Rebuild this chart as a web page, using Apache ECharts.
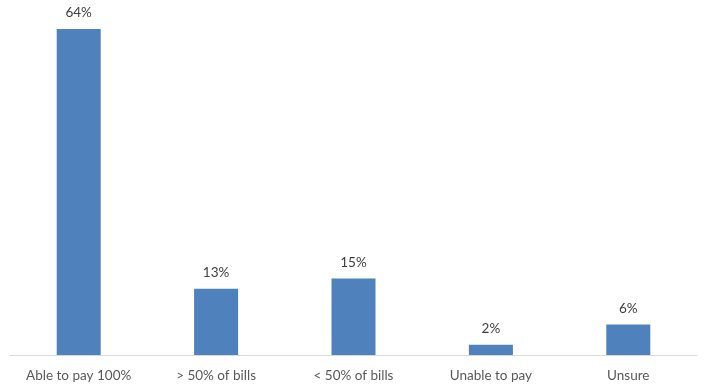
<!DOCTYPE html>
<html>
<head>
<meta charset="utf-8">
<script src="https://cdn.jsdelivr.net/npm/echarts@6/dist/echarts.min.js"></script>
<style>
  html, body { margin: 0; padding: 0; background: #ffffff; }
  #chart { width: 705px; height: 386px; }
</style>
</head>
<body>
<div id="chart"></div>
<script>
// Ability to pay bills — share of respondents
const categories = ['Able to pay 100%', '> 50% of bills', '< 50% of bills', 'Unable to pay', 'Unsure'];
const shares = [64, 13, 15, 2, 6];

const chart = echarts.init(document.getElementById('chart'), null, { renderer: 'canvas' });

chart.setOption({
  animation: false,
  grid: { left: 10, right: 8, top: 29, bottom: 31, containLabel: false },
  xAxis: {
    type: 'category',
    data: categories,
    axisLine: { lineStyle: { color: '#d9d9d9', width: 1 } },
    axisTick: { show: false },
    axisLabel: {
      color: '#595959',
      fontFamily: 'Lato, "Open Sans", sans-serif',
      fontSize: 13.5,
      margin: 14,
      interval: 0
    }
  },
  yAxis: {
    type: 'value',
    min: 0,
    max: 64,
    show: false,
    splitLine: { show: false }
  },
  series: [{
    type: 'bar',
    data: shares,
    barWidth: 44,
    itemStyle: { color: '#4f81bd' },
    label: {
      show: true,
      position: 'top',
      distance: 9,
      formatter: '{c}%',
      color: '#404040',
      fontFamily: 'Lato, "Open Sans", sans-serif',
      fontSize: 13.5
    }
  }]
});
</script>
</body>
</html>
